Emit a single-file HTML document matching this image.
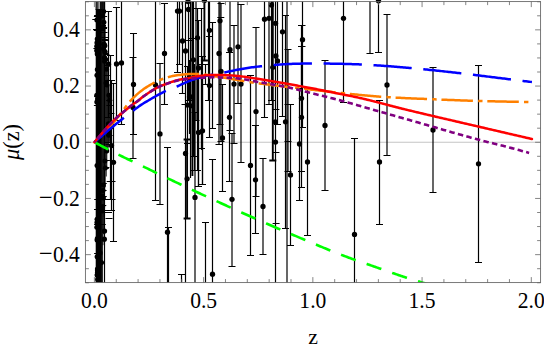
<!DOCTYPE html><html><head><meta charset="utf-8"><title>plot</title><style>html,body{margin:0;padding:0;background:#fff}body{width:544px;height:349px;overflow:hidden}svg{display:block}text{font-family:"Liberation Serif",serif;fill:#000}</style></head><body>
<svg width="544" height="349" viewBox="0 0 544 349">
<rect width="544" height="349" fill="#fff"/>
<defs><clipPath id="c"><rect x="85.40" y="1.60" width="455.20" height="281.00"/></clipPath></defs>
<line x1="85.40" y1="142.25" x2="540.60" y2="142.25" stroke="#c4c4c4" stroke-width="1.2"/>
<g clip-path="url(#c)">
<rect x="95.7" y="9" width="6.2" height="290" fill="#000"/>
<path d="M96.2 0V10M97.9 0V10M100.3 0V10M101.8 0V10" stroke="#000" stroke-width="1.3" fill="none"/>
<path d="M101.90 -5.0V290.0M102.45 -5.0V290.0M103.00 -0.9V245.2M103.55 -5.4V234.2M104.10 0.8V217.1M104.65 -2.7V190.2M105.20 28.3V187.3M105.75 48.7V168.6M106.30 61.8V176.5M106.85 65.2V166.6M107.40 66.2V153.2M107.95 78.4V148.8M108.50 81.7V147.4M109.05 84.4V143.5M109.60 94.2V141.8M110.15 99.3V132.0M110.70 103.0V125.3M111.25 106.4V111.9" stroke="#000" stroke-width="0.8" fill="none"/>
<circle cx="97.6" cy="279.4" r="2.5"/>
<circle cx="97.3" cy="238.5" r="2.5"/>
<circle cx="96.8" cy="102.0" r="2.5"/>
<circle cx="96.7" cy="95.2" r="2.5"/>
<circle cx="97.0" cy="219.2" r="2.5"/>
<circle cx="97.0" cy="240.1" r="2.5"/>
<circle cx="97.4" cy="269.1" r="2.5"/>
<circle cx="96.8" cy="20.1" r="2.5"/>
<circle cx="97.1" cy="256.7" r="2.5"/>
<circle cx="97.0" cy="274.9" r="2.5"/>
<circle cx="97.2" cy="39.0" r="2.5"/>
<circle cx="96.9" cy="222.4" r="2.5"/>
<circle cx="96.9" cy="42.7" r="2.5"/>
<circle cx="97.4" cy="270.7" r="2.5"/>
<circle cx="96.8" cy="50.7" r="2.5"/>
<circle cx="96.7" cy="46.3" r="2.5"/>
<circle cx="96.8" cy="227.2" r="2.5"/>
<circle cx="97.0" cy="165.4" r="2.5"/>
<circle cx="97.3" cy="69.6" r="2.5"/>
<circle cx="97.2" cy="54.1" r="2.5"/>
<circle cx="97.0" cy="50.3" r="2.5"/>
<circle cx="96.9" cy="75.3" r="2.5"/>
<circle cx="97.4" cy="272.4" r="2.5"/>
<circle cx="97.5" cy="99.1" r="2.5"/>
<circle cx="104.8" cy="51.6" r="2.5"/>
<circle cx="103.3" cy="184.9" r="2.5"/>
<circle cx="102.5" cy="28.8" r="2.5"/>
<circle cx="105.1" cy="52.1" r="2.5"/>
<circle cx="105.3" cy="167.9" r="2.5"/>
<circle cx="106.6" cy="69.3" r="2.5"/>
<circle cx="103.3" cy="26.7" r="2.5"/>
<circle cx="104.8" cy="58.3" r="2.5"/>
<circle cx="107.0" cy="84.9" r="2.5"/>
<circle cx="102.7" cy="206.5" r="2.5"/>
<circle cx="108.1" cy="126.9" r="2.5"/>
<circle cx="104.9" cy="45.8" r="2.5"/>
<circle cx="102.3" cy="196.0" r="2.5"/>
<circle cx="105.7" cy="59.6" r="2.5"/>
<circle cx="104.9" cy="161.1" r="2.5"/>
<circle cx="103.5" cy="48.7" r="2.5"/>
<circle cx="103.0" cy="190.6" r="2.5"/>
<circle cx="108.9" cy="95.2" r="2.5"/>
<circle cx="102.4" cy="16.0" r="2.5"/>
<circle cx="104.5" cy="57.4" r="2.5"/>
<circle cx="104.5" cy="61.2" r="2.5"/>
<circle cx="109.0" cy="131.5" r="2.5"/>
<circle cx="103.7" cy="44.3" r="2.5"/>
<circle cx="103.9" cy="22.2" r="2.5"/>
<circle cx="108.4" cy="123.8" r="2.5"/>
<circle cx="108.7" cy="135.2" r="2.5"/>
<circle cx="103.4" cy="197.9" r="2.5"/>
<circle cx="103.7" cy="11.4" r="2.5"/>
<circle cx="109.7" cy="100.3" r="2.5"/>
<circle cx="104.4" cy="44.5" r="2.5"/>
<circle cx="109.6" cy="126.4" r="2.5"/>
<circle cx="106.0" cy="83.0" r="2.5"/>
<circle cx="102.3" cy="211.0" r="2.5"/>
<circle cx="106.7" cy="151.1" r="2.5"/>
<path d="M93.4 48.5h3M94.1 15.5h3M94.2 199.5h3M93.9 16.5h3M94.0 140.5h3M94.2 96.5h3M93.8 30.5h3M94.1 209.5h3M94.0 209.5h3M94.1 224.5h3M93.9 105.5h3M94.1 253.5h3M106.1 100.5h6M100.8 196.5h6M105.7 144.5h6M106.0 135.5h6M101.2 27.5h6M99.8 224.5h6M103.4 167.5h6M102.8 168.5h6M106.7 105.5h6M101.0 28.5h6M101.1 16.5h6M108.4 113.5h6M103.9 160.5h6M104.8 142.5h6M104.4 65.5h6M103.8 75.5h6M103.4 54.5h6M100.3 205.5h6M106.6 105.5h6M104.2 80.5h6M102.8 53.5h6M100.8 183.5h6M101.0 199.5h6M106.6 135.5h6M101.9 39.5h6M100.6 190.5h6" stroke="#000" stroke-width="1" fill="none"/>
<path d="M104.50 -5.0V290.0" stroke="#000" stroke-width="1.2" fill="none"/>
<path d="M108.50 11.1V117.3M105.00 11.5h7M105.00 117.5h7" stroke="#000" stroke-width="1.2" fill="none"/>
<path d="M116.50 7.8V120.0M113.00 7.5h7M113.00 120.5h7" stroke="#000" stroke-width="1.2" fill="none"/>
<path d="M121.50 1.0V124.8M118.00 124.5h7" stroke="#000" stroke-width="1.2" fill="none"/>
<path d="M133.50 33.4V134.5M130.00 33.5h7M130.00 134.5h7" stroke="#000" stroke-width="1.2" fill="none"/>
<path d="M133.00 57.2V158.7M129.50 57.5h7M129.50 158.5h7" stroke="#000" stroke-width="1.2" fill="none"/>
<path d="M113.50 83.3V241.2M110.00 83.5h7M110.00 241.5h7" stroke="#000" stroke-width="1.2" fill="none"/>
<path d="M111.50 80.6V210.6M108.00 80.5h7M108.00 210.5h7" stroke="#000" stroke-width="1.2" fill="none"/>
<path d="M110.50 55.3V199.3M107.00 55.5h7M107.00 199.5h7" stroke="#000" stroke-width="1.2" fill="none"/>
<path d="M155.50 -5.0V200.2M152.00 200.5h7" stroke="#000" stroke-width="1.2" fill="none"/>
<path d="M160.00 63.5V204.4M156.50 63.5h7M156.50 204.5h7" stroke="#000" stroke-width="1.2" fill="none"/>
<path d="M164.50 3.2V104.4M161.00 3.5h7M161.00 104.5h7" stroke="#000" stroke-width="1.2" fill="none"/>
<path d="M167.50 147.8V290.0M164.00 147.5h7" stroke="#000" stroke-width="1.2" fill="none"/>
<path d="M168.50 227.6V290.0M165.00 227.5h7" stroke="#000" stroke-width="1.2" fill="none"/>
<path d="M177.50 -5.0V73.0M174.00 72.5h7" stroke="#000" stroke-width="1.2" fill="none"/>
<path d="M179.50 -5.0V64.2M176.00 64.5h7" stroke="#000" stroke-width="1.2" fill="none"/>
<path d="M182.50 -5.0V93.7M179.00 93.5h7" stroke="#000" stroke-width="1.2" fill="none"/>
<path d="M185.50 -5.0V290.0" stroke="#000" stroke-width="1.2" fill="none"/>
<path d="M188.50 -5.0V100.0M185.00 100.5h7" stroke="#000" stroke-width="1.2" fill="none"/>
<path d="M187.50 66.7V143.5M184.00 66.5h7M184.00 143.5h7" stroke="#000" stroke-width="1.2" fill="none"/>
<path d="M189.50 60.0V134.0" stroke="#000" stroke-width="1.2" fill="none"/>
<path d="M192.40 -5.0V176.0" stroke="#000" stroke-width="1.9" fill="none"/>
<path d="M190.50 -5.0V178.0" stroke="#000" stroke-width="1.2" fill="none"/>
<path d="M187.10 139.4V218.2M183.60 139.5h7M183.60 218.5h7" stroke="#000" stroke-width="1.9" fill="none"/>
<path d="M193.50 -5.0V156.6M190.00 156.5h7" stroke="#000" stroke-width="1.2" fill="none"/>
<path d="M194.50 64.0V170.5M191.00 170.5h7" stroke="#000" stroke-width="1.2" fill="none"/>
<path d="M195.00 112.0V290.0M191.50 112.5h7" stroke="#000" stroke-width="1.2" fill="none"/>
<path d="M197.50 8.6V170.0M194.00 8.5h7M194.00 170.5h7" stroke="#000" stroke-width="1.2" fill="none"/>
<path d="M196.00 -5.0V120.0M192.50 120.5h7" stroke="#000" stroke-width="1.2" fill="none"/>
<path d="M198.50 20.0V186.3M195.00 20.5h7M195.00 186.5h7" stroke="#000" stroke-width="1.2" fill="none"/>
<path d="M198.50 80.0V186.3M195.00 186.5h7" stroke="#000" stroke-width="1.2" fill="none"/>
<path d="M202.50 77.0V184.6M199.00 184.5h7" stroke="#000" stroke-width="1.2" fill="none"/>
<path d="M201.50 8.6V150.0M198.00 8.5h7" stroke="#000" stroke-width="1.2" fill="none"/>
<path d="M202.50 56.6V184.6M199.00 56.5h7M199.00 184.5h7" stroke="#000" stroke-width="1.2" fill="none"/>
<path d="M201.50 64.2V149.0M198.00 64.5h7M198.00 148.5h7" stroke="#000" stroke-width="1.2" fill="none"/>
<path d="M204.40 -5.0V60.4M200.90 60.5h7" stroke="#000" stroke-width="1.9" fill="none"/>
<path d="M205.50 64.2V84.4M202.00 64.5h7M202.00 84.5h7" stroke="#000" stroke-width="1.2" fill="none"/>
<path d="M208.50 -5.0V100.6M205.00 100.5h7" stroke="#000" stroke-width="1.2" fill="none"/>
<path d="M209.50 -5.0V100.6M206.00 100.5h7" stroke="#000" stroke-width="1.2" fill="none"/>
<path d="M209.50 36.0V137.3M206.00 36.5h7M206.00 137.5h7" stroke="#000" stroke-width="1.2" fill="none"/>
<path d="M212.50 23.0V128.4M209.00 22.5h7M209.00 128.5h7" stroke="#000" stroke-width="1.2" fill="none"/>
<path d="M205.50 222.3V290.0M202.00 222.5h7" stroke="#000" stroke-width="1.2" fill="none"/>
<path d="M212.50 159.1V290.0M209.00 159.5h7" stroke="#000" stroke-width="1.2" fill="none"/>
<path d="M181.50 274.6V290.0M178.00 274.5h7" stroke="#000" stroke-width="1.2" fill="none"/>
<path d="M220.00 -5.0V124.6M216.50 124.5h7" stroke="#000" stroke-width="1.2" fill="none"/>
<path d="M219.00 -5.0V144.0M215.50 144.5h7" stroke="#000" stroke-width="1.2" fill="none"/>
<path d="M221.00 3.2V141.5M217.50 3.5h7M217.50 141.5h7" stroke="#000" stroke-width="1.2" fill="none"/>
<path d="M222.50 84.2V191.8M219.00 84.5h7M219.00 191.5h7" stroke="#000" stroke-width="1.2" fill="none"/>
<path d="M229.50 52.5V181.7M226.00 52.5h7M226.00 181.5h7" stroke="#000" stroke-width="1.2" fill="none"/>
<path d="M230.00 -5.0V130.0M226.50 130.5h7" stroke="#000" stroke-width="1.2" fill="none"/>
<path d="M234.00 25.2V143.1M230.50 25.5h7M230.50 143.5h7" stroke="#000" stroke-width="1.2" fill="none"/>
<path d="M238.00 -5.0V103.1M234.50 103.5h7" stroke="#000" stroke-width="1.2" fill="none"/>
<path d="M241.00 5.0V162.3M237.50 4.5h7M237.50 162.5h7" stroke="#000" stroke-width="1.2" fill="none"/>
<path d="M232.00 133.9V266.8M228.50 133.5h7M228.50 266.5h7" stroke="#000" stroke-width="1.2" fill="none"/>
<path d="M250.50 75.3V255.7M247.00 75.5h7M247.00 255.5h7" stroke="#000" stroke-width="1.2" fill="none"/>
<path d="M256.00 27.1V196.0M252.50 27.5h7M252.50 196.5h7" stroke="#000" stroke-width="1.2" fill="none"/>
<path d="M255.50 125.8V233.5M252.00 125.5h7M252.00 233.5h7" stroke="#000" stroke-width="1.2" fill="none"/>
<path d="M263.00 158.7V254.3M259.50 158.5h7M259.50 254.5h7" stroke="#000" stroke-width="1.2" fill="none"/>
<path d="M264.50 -5.0V117.3M261.00 117.5h7" stroke="#000" stroke-width="1.2" fill="none"/>
<path d="M269.00 -5.0V105.0M265.50 104.5h7" stroke="#000" stroke-width="1.2" fill="none"/>
<path d="M271.50 -5.0V100.0M268.00 100.5h7" stroke="#000" stroke-width="1.2" fill="none"/>
<path d="M272.80 -5.0V160.4M269.30 160.5h7" stroke="#000" stroke-width="1.9" fill="none"/>
<path d="M275.50 -5.0V290.0" stroke="#000" stroke-width="1.2" fill="none"/>
<path d="M277.50 -5.0V125.0M274.00 124.5h7" stroke="#000" stroke-width="1.2" fill="none"/>
<path d="M282.50 -5.0V116.4M279.00 116.5h7" stroke="#000" stroke-width="1.2" fill="none"/>
<path d="M285.50 15.1V228.8M282.00 15.5h7M282.00 228.5h7" stroke="#000" stroke-width="1.2" fill="none"/>
<path d="M287.00 -5.0V290.0" stroke="#000" stroke-width="1.2" fill="none"/>
<path d="M288.00 49.3V171.7M284.50 49.5h7M284.50 171.5h7" stroke="#000" stroke-width="1.2" fill="none"/>
<path d="M290.50 104.4V245.2M287.00 104.5h7M287.00 245.5h7" stroke="#000" stroke-width="1.2" fill="none"/>
<path d="M302.50 -5.0V127.1M299.00 127.5h7" stroke="#000" stroke-width="1.2" fill="none"/>
<path d="M301.50 25.2V171.7M298.00 25.5h7M298.00 171.5h7" stroke="#000" stroke-width="1.2" fill="none"/>
<path d="M301.50 46.8V187.6M298.00 46.5h7M298.00 187.5h7" stroke="#000" stroke-width="1.2" fill="none"/>
<path d="M299.50 88.0V200.0M296.00 88.5h7M296.00 200.5h7" stroke="#000" stroke-width="1.2" fill="none"/>
<path d="M307.50 88.7V235.1M304.00 88.5h7M304.00 235.5h7" stroke="#000" stroke-width="1.2" fill="none"/>
<path d="M325.00 60.4V190.3M321.50 60.5h7M321.50 190.5h7" stroke="#000" stroke-width="1.2" fill="none"/>
<path d="M343.50 -5.0V102.1M340.00 102.5h7" stroke="#000" stroke-width="1.2" fill="none"/>
<path d="M354.50 138.3V290.0M351.00 138.5h7" stroke="#000" stroke-width="1.2" fill="none"/>
<path d="M370.00 -5.0V53.8M366.50 53.5h7" stroke="#000" stroke-width="1.2" fill="none"/>
<path d="M378.50 -5.0V52.5M375.00 52.5h7" stroke="#000" stroke-width="1.2" fill="none"/>
<path d="M387.00 14.5V155.2M383.50 14.5h7M383.50 155.5h7" stroke="#000" stroke-width="1.2" fill="none"/>
<path d="M379.50 100.8V224.0M376.00 100.5h7M376.00 224.5h7" stroke="#000" stroke-width="1.2" fill="none"/>
<path d="M433.00 67.5V192.0M429.50 67.5h7M429.50 192.5h7" stroke="#000" stroke-width="1.2" fill="none"/>
<path d="M478.50 65.5V262.2M475.00 65.5h7M475.00 262.5h7" stroke="#000" stroke-width="1.2" fill="none"/>
<path d="M181.5 104.5h7" stroke="#000" stroke-width="1.2" fill="none"/>
<path d="M217.3 17.5h7" stroke="#000" stroke-width="1.2" fill="none"/>
<path d="M92.3 19.5h7" stroke="#000" stroke-width="1.2" fill="none"/>
<path d="M93.0 29.5h7" stroke="#000" stroke-width="1.2" fill="none"/>
<path d="M99.0 25.5h7" stroke="#000" stroke-width="1.2" fill="none"/>
<path d="M100.5 32.5h7" stroke="#000" stroke-width="1.2" fill="none"/>
<path d="M101.5 37.5h7" stroke="#000" stroke-width="1.2" fill="none"/>
<path d="M102.0 40.5h7" stroke="#000" stroke-width="1.2" fill="none"/>
<path d="M106.7 181.5h7" stroke="#000" stroke-width="1.2" fill="none"/>
<path d="M108.5 181.5h7" stroke="#000" stroke-width="1.2" fill="none"/>
<path d="M106.7 199.5h7" stroke="#000" stroke-width="1.2" fill="none"/>
<path d="M108.5 199.5h7" stroke="#000" stroke-width="1.2" fill="none"/>
<path d="M104.8 210.5h7" stroke="#000" stroke-width="1.2" fill="none"/>
<path d="M105.0 212.5h7" stroke="#000" stroke-width="1.2" fill="none"/>
<path d="M105.5 218.5h7" stroke="#000" stroke-width="1.2" fill="none"/>
<path d="M284.5 104.5h7" stroke="#000" stroke-width="1.2" fill="none"/>
<path d="M284.5 141.5h7" stroke="#000" stroke-width="1.2" fill="none"/>
<path d="M272.6 223.5h7" stroke="#000" stroke-width="1.2" fill="none"/>
<path d="M272.4 109.5h7" stroke="#000" stroke-width="1.2" fill="none"/>
<path d="M272.4 152.5h7" stroke="#000" stroke-width="1.2" fill="none"/>
<path d="M298.5 25.5h7" stroke="#000" stroke-width="1.2" fill="none"/>
<path d="M298.5 46.5h7" stroke="#000" stroke-width="1.2" fill="none"/>
<path d="M188.3 38.5h7" stroke="#000" stroke-width="1.2" fill="none"/>
<path d="M185.5 40.5h7" stroke="#000" stroke-width="1.2" fill="none"/>
</g><g>
<circle cx="104.50" cy="231.1" r="2.65"/>
<circle cx="108.50" cy="64.2" r="2.65"/>
<circle cx="116.50" cy="63.9" r="2.65"/>
<circle cx="121.50" cy="62.9" r="2.65"/>
<circle cx="133.50" cy="84.4" r="2.65"/>
<circle cx="133.00" cy="107.5" r="2.65"/>
<circle cx="113.50" cy="162.3" r="2.65"/>
<circle cx="111.50" cy="145.6" r="2.65"/>
<circle cx="110.50" cy="127.3" r="2.65"/>
<circle cx="155.50" cy="85.0" r="2.65"/>
<circle cx="160.00" cy="133.9" r="2.65"/>
<circle cx="164.50" cy="53.5" r="2.65"/>
<circle cx="167.50" cy="232.2" r="2.65"/>
<circle cx="177.50" cy="11.1" r="2.65"/>
<circle cx="179.50" cy="11.1" r="2.65"/>
<circle cx="182.50" cy="41.0" r="2.65"/>
<circle cx="185.50" cy="153.4" r="2.65"/>
<circle cx="188.50" cy="9.5" r="2.65"/>
<circle cx="187.50" cy="105.1" r="2.65"/>
<circle cx="189.50" cy="97.0" r="2.65"/>
<circle cx="192.40" cy="105.8" r="2.65"/>
<circle cx="187.10" cy="178.8" r="2.65"/>
<circle cx="193.50" cy="59.8" r="2.65"/>
<circle cx="195.00" cy="197.4" r="2.65"/>
<circle cx="197.50" cy="37.8" r="2.65"/>
<circle cx="198.50" cy="68.0" r="2.65"/>
<circle cx="198.50" cy="132.5" r="2.65"/>
<circle cx="202.50" cy="130.8" r="2.65"/>
<circle cx="204.40" cy="0.6" r="2.65"/>
<circle cx="209.50" cy="30.3" r="2.65"/>
<circle cx="209.50" cy="85.6" r="2.65"/>
<circle cx="212.50" cy="274.2" r="2.65"/>
<circle cx="220.00" cy="20.8" r="2.65"/>
<circle cx="219.00" cy="53.5" r="2.65"/>
<circle cx="221.00" cy="71.5" r="2.65"/>
<circle cx="222.50" cy="138.0" r="2.65"/>
<circle cx="229.50" cy="117.3" r="2.65"/>
<circle cx="230.00" cy="49.7" r="2.65"/>
<circle cx="234.00" cy="84.1" r="2.65"/>
<circle cx="238.00" cy="46.8" r="2.65"/>
<circle cx="241.00" cy="84.1" r="2.65"/>
<circle cx="232.00" cy="199.3" r="2.65"/>
<circle cx="250.50" cy="165.4" r="2.65"/>
<circle cx="256.00" cy="111.6" r="2.65"/>
<circle cx="255.50" cy="179.8" r="2.65"/>
<circle cx="263.00" cy="206.5" r="2.65"/>
<circle cx="264.50" cy="19.2" r="2.65"/>
<circle cx="269.00" cy="18.3" r="2.65"/>
<circle cx="271.50" cy="5.0" r="2.65"/>
<circle cx="272.80" cy="67.3" r="2.65"/>
<circle cx="275.50" cy="142.1" r="2.65"/>
<circle cx="277.50" cy="61.0" r="2.65"/>
<circle cx="282.50" cy="31.8" r="2.65"/>
<circle cx="285.50" cy="121.8" r="2.65"/>
<circle cx="290.50" cy="174.9" r="2.65"/>
<circle cx="302.50" cy="39.7" r="2.65"/>
<circle cx="301.50" cy="98.3" r="2.65"/>
<circle cx="301.50" cy="117.3" r="2.65"/>
<circle cx="299.50" cy="144.0" r="2.65"/>
<circle cx="307.50" cy="161.9" r="2.65"/>
<circle cx="325.00" cy="125.5" r="2.65"/>
<circle cx="343.50" cy="18.3" r="2.65"/>
<circle cx="354.50" cy="234.4" r="2.65"/>
<circle cx="378.50" cy="0.8" r="2.65"/>
<circle cx="387.00" cy="85.0" r="2.65"/>
<circle cx="379.50" cy="162.0" r="2.65"/>
<circle cx="433.00" cy="130.0" r="2.65"/>
<circle cx="478.50" cy="163.8" r="2.65"/>
<circle cx="192.30" cy="96.9" r="2.65"/>
<circle cx="185.50" cy="50.9" r="2.65"/>
<circle cx="188.00" cy="1.6" r="2.65"/>
<circle cx="275.50" cy="23.3" r="2.65"/>
<circle cx="275.90" cy="56.0" r="2.65"/>
<circle cx="275.30" cy="121.8" r="2.65"/>
<circle cx="104.30" cy="239.2" r="2.65"/>
<circle cx="100.00" cy="253.0" r="2.65"/>
<circle cx="101.40" cy="262.6" r="2.65"/>
</g><g clip-path="url(#c)">
<polyline points="94.40,142.25 95.54,142.84 96.67,143.43 97.81,144.02 98.94,144.61 100.08,145.21 101.22,145.80 102.35,146.40 103.49,146.99 104.62,147.59 105.76,148.18 106.90,148.77 108.03,149.36 109.17,149.95 110.30,150.54 111.44,151.13 112.58,151.71 113.71,152.29 114.85,152.86 115.98,153.44 117.12,154.01 118.25,154.57 119.39,155.13 120.53,155.69 121.66,156.24 122.80,156.79 123.93,157.34 125.07,157.89 126.21,158.43 127.34,158.97 128.48,159.51 129.61,160.04 130.75,160.58 131.89,161.12 133.02,161.65 134.16,162.19 135.29,162.72 136.43,163.26 137.57,163.80 138.70,164.33 139.84,164.88 140.97,165.42 142.11,165.96 143.25,166.51 144.38,167.06 145.52,167.60 146.65,168.15 147.79,168.70 148.93,169.25 150.06,169.80 151.20,170.35 152.33,170.90 153.47,171.46 154.60,172.01 155.74,172.56 156.88,173.11 158.01,173.66 159.15,174.21 160.28,174.75 161.42,175.30 162.56,175.85 163.69,176.40 164.83,176.94 165.96,177.48 167.10,178.03 168.24,178.57 169.37,179.11 170.51,179.65 171.64,180.19 172.78,180.74 173.92,181.28 175.05,181.81 176.19,182.35 177.32,182.89 178.46,183.43 179.60,183.97 180.73,184.50 181.87,185.04 183.00,185.58 184.14,186.11 185.28,186.65 186.41,187.18 187.55,187.71 188.68,188.25 189.82,188.78 190.95,189.31 192.09,189.84 193.23,190.38 194.36,190.91 195.50,191.44 196.63,191.97 197.77,192.49 198.91,193.02 200.04,193.55 201.18,194.08 202.31,194.61 203.45,195.13 204.59,195.66 205.72,196.18 206.86,196.71 207.99,197.23 209.13,197.76 210.27,198.28 211.40,198.80 212.54,199.32 213.67,199.84 214.81,200.36 215.95,200.88 217.08,201.40 218.22,201.92 219.35,202.44 220.49,202.96 221.63,203.48 222.76,203.99 223.90,204.51 225.03,205.03 226.17,205.54 227.30,206.06 228.44,206.57 229.58,207.09 230.71,207.60 231.85,208.12 232.98,208.63 234.12,209.14 235.26,209.65 236.39,210.17 237.53,210.68 238.66,211.19 239.80,211.70 240.94,212.21 242.07,212.72 243.21,213.23 244.34,213.73 245.48,214.24 246.62,214.75 247.75,215.25 248.89,215.76 250.02,216.27 251.16,216.77 252.30,217.28 253.43,217.78 254.57,218.28 255.70,218.78 256.84,219.29 257.98,219.79 259.11,220.29 260.25,220.79 261.38,221.29 262.52,221.78 263.66,222.28 264.79,222.78 265.93,223.28 267.06,223.77 268.20,224.27 269.33,224.76 270.47,225.25 271.61,225.75 272.74,226.24 273.88,226.73 275.01,227.22 276.15,227.71 277.29,228.20 278.42,228.69 279.56,229.18 280.69,229.66 281.83,230.15 282.97,230.63 284.10,231.12 285.24,231.60 286.37,232.08 287.51,232.57 288.65,233.05 289.78,233.53 290.92,234.01 292.05,234.48 293.19,234.96 294.33,235.44 295.46,235.92 296.60,236.41 297.73,236.89 298.87,237.37 300.01,237.85 301.14,238.33 302.28,238.81 303.41,239.29 304.55,239.77 305.68,240.25 306.82,240.73 307.96,241.21 309.09,241.69 310.23,242.17 311.36,242.65 312.50,243.13 313.64,243.60 314.77,244.08 315.91,244.56 317.04,245.03 318.18,245.50 319.32,245.98 320.45,246.45 321.59,246.92 322.72,247.39 323.86,247.85 325.00,248.32 326.13,248.78 327.27,249.25 328.40,249.71 329.54,250.17 330.68,250.63 331.81,251.08 332.95,251.54 334.08,251.99 335.22,252.44 336.36,252.89 337.49,253.34 338.63,253.78 339.76,254.22 340.90,254.66 342.03,255.10 343.17,255.54 344.31,255.97 345.44,256.40 346.58,256.83 347.71,257.25 348.85,257.67 349.99,258.09 351.12,258.51 352.26,258.92 353.39,259.33 354.53,259.74 355.67,260.14 356.80,260.54 357.94,260.94 359.07,261.33 360.21,261.72 361.35,262.11 362.48,262.50 363.62,262.89 364.75,263.28 365.89,263.66 367.03,264.05 368.16,264.45 369.30,264.84 370.43,265.23 371.57,265.63 372.71,266.03 373.84,266.42 374.98,266.82 376.11,267.22 377.25,267.62 378.38,268.02 379.52,268.43 380.66,268.83 381.79,269.23 382.93,269.63 384.06,270.03 385.20,270.43 386.34,270.83 387.47,271.23 388.61,271.63 389.74,272.03 390.88,272.42 392.02,272.82 393.15,273.21 394.29,273.60 395.42,273.99 396.56,274.38 397.70,274.77 398.83,275.15 399.97,275.53 401.10,275.91 402.24,276.29 403.38,276.66 404.51,277.03 405.65,277.40 406.78,277.77 407.92,278.13 409.06,278.49 410.19,278.84 411.33,279.19 412.46,279.55 413.60,279.89 414.74,280.24 415.87,280.59 417.01,280.93 418.14,281.28 419.28,281.62 420.41,281.97 421.55,282.31 422.69,282.65 423.82,283.00 424.96,283.34 426.09,283.68 427.23,284.01 428.37,284.35 429.50,284.69 430.64,285.02 431.77,285.36 432.91,285.69 434.05,286.03 435.18,286.36" fill="none" stroke="#00ff00" stroke-width="2.6" stroke-dasharray="15.6 11.52"/>
<polyline points="94.40,142.25 95.85,140.83 97.30,139.43 98.75,138.04 100.20,136.65 101.65,135.24 103.09,133.82 104.54,132.35 105.99,130.85 107.44,129.30 108.89,127.72 110.34,126.11 111.79,124.47 113.24,122.80 114.69,121.09 116.14,119.34 117.58,117.54 119.03,115.68 120.48,113.80 121.93,111.90 123.38,110.02 124.83,108.07 126.28,106.10 127.73,104.17 129.18,102.34 130.63,100.67 132.08,99.12 133.52,97.67 134.97,96.28 136.42,94.93 137.87,93.63 139.32,92.41 140.77,91.24 142.22,90.14 143.67,89.09 145.12,88.09 146.57,87.14 148.01,86.23 149.46,85.36 150.91,84.53 152.36,83.72 153.81,82.94 155.26,82.19 156.71,81.47 158.16,80.80 159.61,80.16 161.06,79.56 162.51,78.99 163.95,78.47 165.40,77.97 166.85,77.51 168.30,77.09 169.75,76.70 171.20,76.36 172.65,76.05 174.10,75.78 175.55,75.54 177.00,75.32 178.44,75.11 179.89,74.91 181.34,74.72 182.79,74.55 184.24,74.40 185.69,74.26 187.14,74.15 188.59,74.06 190.04,73.99 191.49,73.95 192.94,73.93 194.38,73.93 195.83,73.95 197.28,73.99 198.73,74.06 200.18,74.14 201.63,74.25 203.08,74.37 204.53,74.52 205.98,74.70 207.43,74.91 208.88,75.14 210.32,75.38 211.77,75.64 213.22,75.89 214.67,76.15 216.12,76.40 217.57,76.63 219.02,76.87 220.47,77.11 221.92,77.35 223.37,77.59 224.81,77.84 226.26,78.08 227.71,78.33 229.16,78.57 230.61,78.81 232.06,79.06 233.51,79.30 234.96,79.54 236.41,79.78 237.86,80.03 239.31,80.27 240.75,80.52 242.20,80.76 243.65,81.00 245.10,81.24 246.55,81.48 248.00,81.71 249.45,81.94 250.90,82.17 252.35,82.39 253.80,82.61 255.24,82.82 256.69,83.03 258.14,83.24 259.59,83.44 261.04,83.64 262.49,83.84 263.94,84.03 265.39,84.23 266.84,84.42 268.29,84.60 269.74,84.79 271.18,84.97 272.63,85.15 274.08,85.33 275.53,85.51 276.98,85.69 278.43,85.86 279.88,86.04 281.33,86.21 282.78,86.38 284.23,86.55 285.67,86.73 287.12,86.90 288.57,87.06 290.02,87.23 291.47,87.39 292.92,87.55 294.37,87.71 295.82,87.87 297.27,88.03 298.72,88.19 300.17,88.35 301.61,88.50 303.06,88.66 304.51,88.82 305.96,88.98 307.41,89.14 308.86,89.31 310.31,89.47 311.76,89.64 313.21,89.81 314.66,89.97 316.10,90.14 317.55,90.31 319.00,90.48 320.45,90.65 321.90,90.82 323.35,90.99 324.80,91.16 326.25,91.33 327.70,91.50 329.15,91.66 330.60,91.83 332.04,92.00 333.49,92.16 334.94,92.32 336.39,92.48 337.84,92.64 339.29,92.80 340.74,92.96 342.19,93.11 343.64,93.26 345.09,93.41 346.53,93.56 347.98,93.71 349.43,93.86 350.88,94.00 352.33,94.15 353.78,94.30 355.23,94.44 356.68,94.58 358.13,94.73 359.58,94.87 361.03,95.01 362.47,95.14 363.92,95.28 365.37,95.41 366.82,95.55 368.27,95.68 369.72,95.80 371.17,95.93 372.62,96.05 374.07,96.17 375.52,96.29 376.97,96.40 378.41,96.52 379.86,96.63 381.31,96.73 382.76,96.83 384.21,96.93 385.66,97.03 387.11,97.12 388.56,97.21 390.01,97.30 391.46,97.39 392.90,97.47 394.35,97.55 395.80,97.63 397.25,97.71 398.70,97.78 400.15,97.85 401.60,97.92 403.05,97.99 404.50,98.06 405.95,98.13 407.40,98.20 408.84,98.26 410.29,98.32 411.74,98.39 413.19,98.45 414.64,98.51 416.09,98.57 417.54,98.63 418.99,98.69 420.44,98.75 421.89,98.81 423.33,98.87 424.78,98.93 426.23,98.99 427.68,99.05 429.13,99.11 430.58,99.17 432.03,99.23 433.48,99.30 434.93,99.36 436.38,99.42 437.83,99.48 439.27,99.54 440.72,99.60 442.17,99.66 443.62,99.72 445.07,99.78 446.52,99.84 447.97,99.89 449.42,99.95 450.87,100.01 452.32,100.06 453.76,100.12 455.21,100.17 456.66,100.23 458.11,100.28 459.56,100.33 461.01,100.38 462.46,100.43 463.91,100.48 465.36,100.53 466.81,100.58 468.26,100.63 469.70,100.68 471.15,100.73 472.60,100.77 474.05,100.82 475.50,100.86 476.95,100.91 478.40,100.95 479.85,101.00 481.30,101.04 482.75,101.08 484.19,101.12 485.64,101.16 487.09,101.20 488.54,101.23 489.99,101.27 491.44,101.30 492.89,101.34 494.34,101.37 495.79,101.40 497.24,101.43 498.69,101.46 500.13,101.49 501.58,101.52 503.03,101.55 504.48,101.58 505.93,101.61 507.38,101.64 508.83,101.67 510.28,101.70 511.73,101.73 513.18,101.75 514.62,101.78 516.07,101.81 517.52,101.84 518.97,101.87 520.42,101.89 521.87,101.92 523.32,101.95 524.77,101.98 526.22,102.01 527.67,102.04 529.12,102.07" fill="none" stroke="#ff8000" stroke-width="2.5" stroke-dasharray="31.5 5.2 4.4 4.8" stroke-dashoffset="-8"/>
<polyline points="94.40,142.25 95.86,141.00 97.32,139.74 98.78,138.48 100.23,137.21 101.69,135.96 103.15,134.70 104.61,133.46 106.07,132.22 107.53,130.99 108.99,129.78 110.44,128.57 111.90,127.38 113.36,126.18 114.82,125.00 116.28,123.82 117.74,122.65 119.19,121.49 120.65,120.33 122.11,119.18 123.57,118.04 125.03,116.90 126.49,115.77 127.95,114.64 129.40,113.53 130.86,112.41 132.32,111.30 133.78,110.18 135.24,109.07 136.70,107.96 138.16,106.89 139.61,105.85 141.07,104.87 142.53,103.94 143.99,103.05 145.45,102.18 146.91,101.33 148.37,100.48 149.82,99.62 151.28,98.77 152.74,97.92 154.20,97.08 155.66,96.25 157.12,95.43 158.57,94.62 160.03,93.84 161.49,93.08 162.95,92.34 164.41,91.64 165.87,90.96 167.33,90.33 168.78,89.73 170.24,89.15 171.70,88.59 173.16,88.02 174.62,87.45 176.08,86.86 177.54,86.24 178.99,85.59 180.45,84.92 181.91,84.24 183.37,83.56 184.83,82.89 186.29,82.24 187.75,81.61 189.20,81.01 190.66,80.46 192.12,79.94 193.58,79.45 195.04,78.98 196.50,78.53 197.95,78.10 199.41,77.69 200.87,77.29 202.33,76.90 203.79,76.52 205.25,76.15 206.71,75.80 208.16,75.47 209.62,75.16 211.08,74.86 212.54,74.58 214.00,74.31 215.46,74.04 216.92,73.78 218.37,73.53 219.83,73.27 221.29,73.00 222.75,72.73 224.21,72.45 225.67,72.17 227.13,71.87 228.58,71.58 230.04,71.28 231.50,70.98 232.96,70.68 234.42,70.39 235.88,70.09 237.33,69.80 238.79,69.51 240.25,69.23 241.71,68.96 243.17,68.69 244.63,68.43 246.09,68.19 247.54,67.95 249.00,67.73 250.46,67.52 251.92,67.33 253.38,67.14 254.84,66.97 256.30,66.80 257.75,66.63 259.21,66.47 260.67,66.31 262.13,66.15 263.59,66.00 265.05,65.85 266.51,65.70 267.96,65.56 269.42,65.42 270.88,65.28 272.34,65.15 273.80,65.03 275.26,64.90 276.71,64.78 278.17,64.67 279.63,64.56 281.09,64.46 282.55,64.36 284.01,64.27 285.47,64.18 286.92,64.10 288.38,64.02 289.84,63.95 291.30,63.89 292.76,63.83 294.22,63.78 295.68,63.74 297.13,63.70 298.59,63.67 300.05,63.64 301.51,63.61 302.97,63.59 304.43,63.57 305.89,63.56 307.34,63.55 308.80,63.54 310.26,63.53 311.72,63.52 313.18,63.51 314.64,63.51 316.09,63.51 317.55,63.51 319.01,63.51 320.47,63.52 321.93,63.53 323.39,63.55 324.85,63.56 326.30,63.58 327.76,63.60 329.22,63.62 330.68,63.64 332.14,63.67 333.60,63.69 335.06,63.72 336.51,63.74 337.97,63.77 339.43,63.80 340.89,63.83 342.35,63.86 343.81,63.90 345.27,63.93 346.72,63.97 348.18,64.01 349.64,64.05 351.10,64.09 352.56,64.14 354.02,64.19 355.47,64.24 356.93,64.30 358.39,64.36 359.85,64.42 361.31,64.48 362.77,64.55 364.23,64.62 365.68,64.70 367.14,64.78 368.60,64.86 370.06,64.94 371.52,65.02 372.98,65.11 374.44,65.20 375.89,65.30 377.35,65.39 378.81,65.49 380.27,65.59 381.73,65.69 383.19,65.80 384.65,65.90 386.10,66.01 387.56,66.12 389.02,66.23 390.48,66.34 391.94,66.46 393.40,66.58 394.85,66.69 396.31,66.81 397.77,66.93 399.23,67.06 400.69,67.18 402.15,67.30 403.61,67.43 405.06,67.55 406.52,67.68 407.98,67.81 409.44,67.93 410.90,68.06 412.36,68.19 413.82,68.32 415.27,68.46 416.73,68.59 418.19,68.73 419.65,68.87 421.11,69.01 422.57,69.15 424.03,69.29 425.48,69.44 426.94,69.59 428.40,69.74 429.86,69.89 431.32,70.04 432.78,70.19 434.23,70.34 435.69,70.50 437.15,70.66 438.61,70.81 440.07,70.97 441.53,71.13 442.99,71.29 444.44,71.45 445.90,71.62 447.36,71.78 448.82,71.94 450.28,72.11 451.74,72.27 453.20,72.44 454.65,72.60 456.11,72.77 457.57,72.94 459.03,73.10 460.49,73.27 461.95,73.44 463.41,73.61 464.86,73.78 466.32,73.95 467.78,74.12 469.24,74.29 470.70,74.47 472.16,74.64 473.61,74.82 475.07,75.00 476.53,75.18 477.99,75.36 479.45,75.54 480.91,75.72 482.37,75.90 483.82,76.08 485.28,76.26 486.74,76.44 488.20,76.62 489.66,76.80 491.12,76.98 492.58,77.16 494.03,77.34 495.49,77.53 496.95,77.71 498.41,77.89 499.87,78.07 501.33,78.25 502.78,78.43 504.24,78.61 505.70,78.79 507.16,78.97 508.62,79.15 510.08,79.33 511.54,79.51 512.99,79.70 514.45,79.88 515.91,80.06 517.37,80.24 518.83,80.42 520.29,80.61 521.75,80.79 523.20,80.97 524.66,81.15 526.12,81.33 527.58,81.52 529.04,81.70 530.50,81.88 531.96,82.06" fill="none" stroke="#0000ff" stroke-width="2.5" stroke-dasharray="38.3 11.65"/>
<polyline points="94.40,142.25 95.86,140.51 97.32,138.76 98.78,137.02 100.23,135.28 101.69,133.57 103.15,131.89 104.61,130.22 106.07,128.56 107.53,126.93 108.99,125.35 110.44,123.81 111.90,122.30 113.36,120.83 114.82,119.40 116.28,118.02 117.74,116.69 119.19,115.43 120.65,114.21 122.11,113.01 123.57,111.81 125.03,110.61 126.49,109.41 127.95,108.22 129.40,107.06 130.86,105.92 132.32,104.82 133.78,103.78 135.24,102.76 136.70,101.73 138.16,100.65 139.61,99.48 141.07,98.27 142.53,97.09 143.99,96.00 145.45,94.97 146.91,93.98 148.37,93.01 149.82,92.05 151.28,91.11 152.74,90.20 154.20,89.32 155.66,88.49 157.12,87.71 158.57,86.99 160.03,86.32 161.49,85.70 162.95,85.12 164.41,84.56 165.87,84.02 167.33,83.49 168.78,82.96 170.24,82.44 171.70,81.94 173.16,81.45 174.62,80.99 176.08,80.55 177.54,80.16 178.99,79.81 180.45,79.49 181.91,79.21 183.37,78.94 184.83,78.68 186.29,78.43 187.75,78.18 189.20,77.91 190.66,77.63 192.12,77.33 193.58,77.03 195.04,76.73 196.50,76.46 197.95,76.21 199.41,76.00 200.87,75.81 202.33,75.64 203.79,75.49 205.25,75.36 206.71,75.25 208.16,75.16 209.62,75.08 211.08,75.03 212.54,74.99 214.00,74.96 215.46,74.94 216.92,74.94 218.37,74.95 219.83,74.98 221.29,75.02 222.75,75.07 224.21,75.12 225.67,75.17 227.13,75.23 228.58,75.31 230.04,75.39 231.50,75.47 232.96,75.57 234.42,75.68 235.88,75.80 237.33,75.94 238.79,76.08 240.25,76.24 241.71,76.42 243.17,76.62 244.63,76.82 246.09,77.03 247.54,77.25 249.00,77.47 250.46,77.69 251.92,77.91 253.38,78.13 254.84,78.36 256.30,78.59 257.75,78.82 259.21,79.06 260.67,79.30 262.13,79.54 263.59,79.78 265.05,80.02 266.51,80.27 267.96,80.51 269.42,80.75 270.88,81.00 272.34,81.25 273.80,81.50 275.26,81.75 276.71,82.00 278.17,82.25 279.63,82.51 281.09,82.76 282.55,83.02 284.01,83.27 285.47,83.53 286.92,83.79 288.38,84.05 289.84,84.30 291.30,84.56 292.76,84.82 294.22,85.08 295.68,85.34 297.13,85.60 298.59,85.86 300.05,86.12 301.51,86.38 302.97,86.65 304.43,86.91 305.89,87.18 307.34,87.44 308.80,87.71 310.26,87.98 311.72,88.26 313.18,88.53 314.64,88.81 316.09,89.09 317.55,89.38 319.01,89.66 320.47,89.95 321.93,90.25 323.39,90.54 324.85,90.84 326.30,91.13 327.76,91.43 329.22,91.73 330.68,92.03 332.14,92.33 333.60,92.63 335.06,92.93 336.51,93.22 337.97,93.52 339.43,93.81 340.89,94.10 342.35,94.39 343.81,94.67 345.27,94.95 346.72,95.23 348.18,95.51 349.64,95.79 351.10,96.08 352.56,96.37 354.02,96.68 355.47,96.99 356.93,97.30 358.39,97.63 359.85,97.96 361.31,98.29 362.77,98.63 364.23,98.97 365.68,99.32 367.14,99.67 368.60,100.03 370.06,100.39 371.52,100.76 372.98,101.12 374.44,101.49 375.89,101.87 377.35,102.24 378.81,102.62 380.27,103.00 381.73,103.38 383.19,103.76 384.65,104.14 386.10,104.52 387.56,104.90 389.02,105.28 390.48,105.67 391.94,106.05 393.40,106.43 394.85,106.81 396.31,107.18 397.77,107.56 399.23,107.93 400.69,108.30 402.15,108.67 403.61,109.03 405.06,109.39 406.52,109.75 407.98,110.10 409.44,110.45 410.90,110.80 412.36,111.15 413.82,111.50 415.27,111.85 416.73,112.20 418.19,112.54 419.65,112.89 421.11,113.23 422.57,113.58 424.03,113.92 425.48,114.27 426.94,114.61 428.40,114.96 429.86,115.30 431.32,115.64 432.78,115.98 434.23,116.32 435.69,116.67 437.15,117.01 438.61,117.35 440.07,117.69 441.53,118.03 442.99,118.37 444.44,118.71 445.90,119.04 447.36,119.38 448.82,119.72 450.28,120.06 451.74,120.40 453.20,120.74 454.65,121.08 456.11,121.41 457.57,121.75 459.03,122.09 460.49,122.43 461.95,122.76 463.41,123.10 464.86,123.44 466.32,123.78 467.78,124.11 469.24,124.45 470.70,124.79 472.16,125.13 473.61,125.47 475.07,125.80 476.53,126.14 477.99,126.48 479.45,126.82 480.91,127.16 482.37,127.50 483.82,127.84 485.28,128.18 486.74,128.51 488.20,128.85 489.66,129.19 491.12,129.53 492.58,129.87 494.03,130.21 495.49,130.55 496.95,130.89 498.41,131.23 499.87,131.57 501.33,131.91 502.78,132.25 504.24,132.58 505.70,132.92 507.16,133.26 508.62,133.60 510.08,133.94 511.54,134.28 512.99,134.62 514.45,134.95 515.91,135.29 517.37,135.63 518.83,135.97 520.29,136.31 521.75,136.65 523.20,136.99 524.66,137.32 526.12,137.66 527.58,138.00 529.04,138.34 530.50,138.68 531.96,139.02" fill="none" stroke="#ff0000" stroke-width="2.5" stroke-linecap="round"/>
<polyline points="94.40,142.25 95.85,140.52 97.30,138.79 98.75,137.05 100.20,135.33 101.65,133.63 103.09,131.96 104.54,130.29 105.99,128.65 107.44,127.03 108.89,125.45 110.34,123.92 111.79,122.41 113.24,120.95 114.69,119.53 116.14,118.15 117.58,116.83 119.03,115.56 120.48,114.35 121.93,113.16 123.38,111.97 124.83,110.77 126.28,109.58 127.73,108.40 129.18,107.24 130.63,106.10 132.08,105.00 133.52,103.96 134.97,102.95 136.42,101.93 137.87,100.86 139.32,99.72 140.77,98.52 142.22,97.34 143.67,96.24 145.12,95.20 146.57,94.21 148.01,93.24 149.46,92.28 150.91,91.34 152.36,90.42 153.81,89.54 155.26,88.70 156.71,87.92 158.16,87.19 159.61,86.53 161.06,85.91 162.51,85.34 163.95,84.80 165.40,84.28 166.85,83.77 168.30,83.28 169.75,82.78 171.20,82.31 172.65,81.85 174.10,81.42 175.55,81.02 177.00,80.66 178.44,80.34 179.89,80.06 181.34,79.82 182.79,79.60 184.24,79.41 185.69,79.23 187.14,79.06 188.59,78.90 190.04,78.74 191.49,78.59 192.94,78.45 194.38,78.32 195.83,78.21 197.28,78.09 198.73,77.98 200.18,77.87 201.63,77.77 203.08,77.68 204.53,77.59 205.98,77.52 207.43,77.45 208.88,77.39 210.32,77.34 211.77,77.31 213.22,77.29 214.67,77.28 216.12,77.31 217.57,77.35 219.02,77.41 220.47,77.47 221.92,77.54 223.37,77.61 224.81,77.68 226.26,77.74 227.71,77.80 229.16,77.86 230.61,77.92 232.06,78.00 233.51,78.08 234.96,78.18 236.41,78.30 237.86,78.44 239.31,78.60 240.75,78.79 242.20,79.01 243.65,79.25 245.10,79.51 246.55,79.78 248.00,80.06 249.45,80.34 250.90,80.61 252.35,80.87 253.80,81.13 255.24,81.39 256.69,81.66 258.14,81.92 259.59,82.19 261.04,82.45 262.49,82.72 263.94,82.99 265.39,83.25 266.84,83.52 268.29,83.78 269.74,84.05 271.18,84.30 272.63,84.56 274.08,84.81 275.53,85.06 276.98,85.31 278.43,85.56 279.88,85.81 281.33,86.07 282.78,86.33 284.23,86.60 285.67,86.88 287.12,87.18 288.57,87.48 290.02,87.79 291.47,88.12 292.92,88.45 294.37,88.80 295.82,89.15 297.27,89.51 298.72,89.87 300.17,90.24 301.61,90.61 303.06,90.98 304.51,91.36 305.96,91.73 307.41,92.11 308.86,92.48 310.31,92.85 311.76,93.22 313.21,93.59 314.66,93.95 316.10,94.31 317.55,94.66 319.00,95.02 320.45,95.38 321.90,95.73 323.35,96.09 324.80,96.45 326.25,96.80 327.70,97.16 329.15,97.53 330.60,97.89 332.04,98.25 333.49,98.62 334.94,98.99 336.39,99.37 337.84,99.74 339.29,100.13 340.74,100.51 342.19,100.90 343.64,101.30 345.09,101.70 346.53,102.11 347.98,102.52 349.43,102.93 350.88,103.35 352.33,103.77 353.78,104.18 355.23,104.60 356.68,105.02 358.13,105.43 359.58,105.84 361.03,106.26 362.47,106.67 363.92,107.08 365.37,107.49 366.82,107.91 368.27,108.32 369.72,108.73 371.17,109.15 372.62,109.56 374.07,109.97 375.52,110.38 376.97,110.79 378.41,111.21 379.86,111.62 381.31,112.03 382.76,112.44 384.21,112.85 385.66,113.27 387.11,113.68 388.56,114.09 390.01,114.50 391.46,114.91 392.90,115.32 394.35,115.74 395.80,116.15 397.25,116.56 398.70,116.97 400.15,117.38 401.60,117.79 403.05,118.20 404.50,118.61 405.95,119.02 407.40,119.43 408.84,119.85 410.29,120.26 411.74,120.67 413.19,121.08 414.64,121.50 416.09,121.91 417.54,122.33 418.99,122.75 420.44,123.17 421.89,123.58 423.33,124.00 424.78,124.42 426.23,124.84 427.68,125.26 429.13,125.68 430.58,126.10 432.03,126.52 433.48,126.94 434.93,127.36 436.38,127.78 437.83,128.20 439.27,128.62 440.72,129.04 442.17,129.46 443.62,129.88 445.07,130.30 446.52,130.72 447.97,131.13 449.42,131.55 450.87,131.96 452.32,132.38 453.76,132.79 455.21,133.20 456.66,133.62 458.11,134.03 459.56,134.44 461.01,134.84 462.46,135.25 463.91,135.65 465.36,136.06 466.81,136.46 468.26,136.86 469.70,137.26 471.15,137.66 472.60,138.05 474.05,138.44 475.50,138.84 476.95,139.22 478.40,139.61 479.85,140.00 481.30,140.38 482.75,140.76 484.19,141.14 485.64,141.51 487.09,141.89 488.54,142.25 489.99,142.62 491.44,142.98 492.89,143.34 494.34,143.70 495.79,144.06 497.24,144.42 498.69,144.77 500.13,145.13 501.58,145.49 503.03,145.86 504.48,146.22 505.93,146.59 507.38,146.97 508.83,147.35 510.28,147.73 511.73,148.12 513.18,148.51 514.62,148.90 516.07,149.30 517.52,149.69 518.97,150.09 520.42,150.49 521.87,150.89 523.32,151.29 524.77,151.69 526.22,152.09 527.67,152.49 529.12,152.89" fill="none" stroke="#800080" stroke-width="2.6" stroke-dasharray="5.5 3.33" stroke-dashoffset="4.4"/>
</g>
<rect x="85.40" y="1.60" width="455.20" height="281.00" fill="none" stroke="#626262" stroke-width="0.85"/>
<path d="M94.40 282.60v-5.50M94.40 1.60v5.50M116.25 282.60v-3.50M116.25 1.60v3.50M138.09 282.60v-3.50M138.09 1.60v3.50M159.94 282.60v-3.50M159.94 1.60v3.50M181.78 282.60v-3.50M181.78 1.60v3.50M203.62 282.60v-5.50M203.62 1.60v5.50M225.47 282.60v-3.50M225.47 1.60v3.50M247.31 282.60v-3.50M247.31 1.60v3.50M269.16 282.60v-3.50M269.16 1.60v3.50M291.00 282.60v-3.50M291.00 1.60v3.50M312.85 282.60v-5.50M312.85 1.60v5.50M334.70 282.60v-3.50M334.70 1.60v3.50M356.54 282.60v-3.50M356.54 1.60v3.50M378.38 282.60v-3.50M378.38 1.60v3.50M400.23 282.60v-3.50M400.23 1.60v3.50M422.07 282.60v-5.50M422.07 1.60v5.50M443.92 282.60v-3.50M443.92 1.60v3.50M465.76 282.60v-3.50M465.76 1.60v3.50M487.61 282.60v-3.50M487.61 1.60v3.50M509.45 282.60v-3.50M509.45 1.60v3.50M531.30 282.60v-5.50M531.30 1.60v5.50M85.40 282.75h3.50M540.60 282.75h-3.50M85.40 268.70h3.50M540.60 268.70h-3.50M85.40 254.65h5.50M540.60 254.65h-5.50M85.40 240.60h3.50M540.60 240.60h-3.50M85.40 226.55h3.50M540.60 226.55h-3.50M85.40 212.50h3.50M540.60 212.50h-3.50M85.40 198.45h5.50M540.60 198.45h-5.50M85.40 184.40h3.50M540.60 184.40h-3.50M85.40 170.35h3.50M540.60 170.35h-3.50M85.40 156.30h3.50M540.60 156.30h-3.50M85.40 142.25h5.50M540.60 142.25h-5.50M85.40 128.20h3.50M540.60 128.20h-3.50M85.40 114.15h3.50M540.60 114.15h-3.50M85.40 100.10h3.50M540.60 100.10h-3.50M85.40 86.05h5.50M540.60 86.05h-5.50M85.40 72.00h3.50M540.60 72.00h-3.50M85.40 57.95h3.50M540.60 57.95h-3.50M85.40 43.90h3.50M540.60 43.90h-3.50M85.40 29.85h5.50M540.60 29.85h-5.50M85.40 15.80h3.50M540.60 15.80h-3.50M85.40 1.75h3.50M540.60 1.75h-3.50" stroke="#666" stroke-width="0.8" fill="none"/>
<text transform="translate(94.40,308.40) scale(1,1.068)" font-size="21.6" text-anchor="middle">0.0</text>
<text transform="translate(203.62,308.40) scale(1,1.068)" font-size="21.6" text-anchor="middle">0.5</text>
<text transform="translate(312.85,308.40) scale(1,1.068)" font-size="21.6" text-anchor="middle">1.0</text>
<text transform="translate(422.07,308.40) scale(1,1.068)" font-size="21.6" text-anchor="middle">1.5</text>
<text transform="translate(531.30,308.40) scale(1,1.068)" font-size="21.6" text-anchor="middle">2.0</text>
<text transform="translate(79.90,37.05) scale(1,1.068)" font-size="21.6" text-anchor="end">0.4</text>
<text transform="translate(79.90,93.25) scale(1,1.068)" font-size="21.6" text-anchor="end">0.2</text>
<text transform="translate(79.90,149.45) scale(1,1.068)" font-size="21.6" text-anchor="end">0.0</text>
<text transform="translate(79.90,205.65) scale(1,1.068)" font-size="21.6" text-anchor="end"><tspan font-size="24.5">−</tspan>0.2</text>
<text transform="translate(79.90,261.85) scale(1,1.068)" font-size="21.6" text-anchor="end"><tspan font-size="24.5">−</tspan>0.4</text>
<text x="313" y="344" font-size="21.8" text-anchor="middle">z</text>
<text transform="translate(18.8,142) rotate(-90)" font-size="22.4" text-anchor="middle"><tspan font-style="italic">μ</tspan>(z)</text>
</svg></body></html>
